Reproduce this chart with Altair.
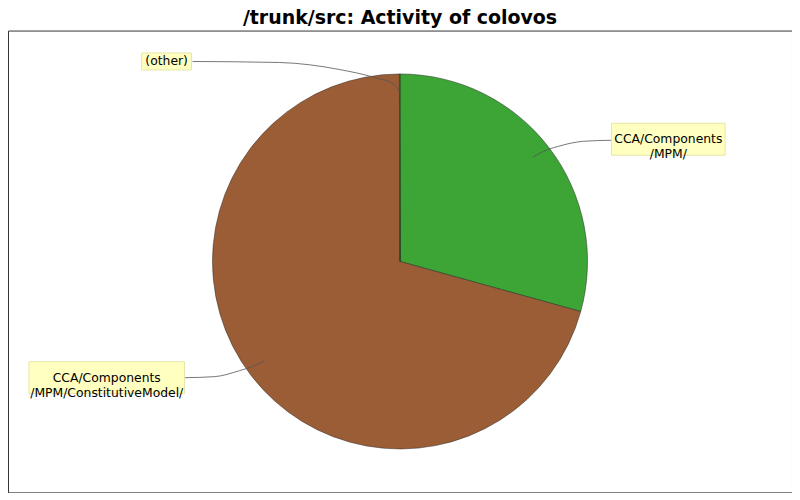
import altair as alt
import pandas as pd

# Slice data (clockwise from 12 o'clock)
categories = ["CCA/Components/MPM/", "CCA/Components/MPM/ConstitutiveModel/", "(other)"]
shares = [29.3, 70.65, 0.05]
colors = ["#3ca535", "#9b5d35", "#8c8c8c"]

# Label annotations (plot pixel space)
label_texts = [["CCA/Components", "/MPM/"], ["CCA/Components", "/MPM/ConstitutiveModel/"], ["(other)"]]
label_cx = [662, 99, 159]
label_cy = [109, 348, 31]
label_w = [114, 156, 50]
label_h = [32, 32, 17]
leader_x = [[605, 577, 552, 537, 526],
             [177, 207, 232, 247, 257],
             [185, 272, 332, 367, 387, 392]]
leader_y = [[110, 111, 116, 121, 127],
             [348, 347, 341, 336, 331],
             [31, 32, 39, 47, 54, 61]]

W, H = 786, 463

pie_df = pd.DataFrame({"cat": categories, "share": shares, "ord": list(range(len(categories)))})

pie = alt.Chart(pie_df).mark_arc(radius=188, stroke="#222", strokeWidth=0.6, strokeOpacity=0.8).encode(
    theta=alt.Theta("share:Q", stack=True),
    order=alt.Order("ord:Q"),
    color=alt.Color("cat:N", scale=alt.Scale(domain=categories, range=colors), legend=None),
)

xs = alt.Scale(domain=[0, W], nice=False, zero=False)
ys = alt.Scale(domain=[0, H], nice=False, zero=False, reverse=True)

line_rows = []
for i, (lx, ly) in enumerate(zip(leader_x, leader_y)):
    for j, (a, b) in enumerate(zip(lx, ly)):
        line_rows.append({"lid": i, "k": j, "x": a, "y": b})
lines_df = pd.DataFrame(line_rows)

leaders = alt.Chart(lines_df).mark_line(color="#555", strokeWidth=0.8, interpolate="monotone").encode(
    x=alt.X("x:Q", scale=xs, axis=None),
    y=alt.Y("y:Q", scale=ys, axis=None),
    detail="lid:N",
    order="k:Q",
)

box_df = pd.DataFrame({
    "x1": [c - w / 2 for c, w in zip(label_cx, label_w)],
    "x2": [c + w / 2 for c, w in zip(label_cx, label_w)],
    "y1": [c - h / 2 for c, h in zip(label_cy, label_h)],
    "y2": [c + h / 2 for c, h in zip(label_cy, label_h)],
    "cx": label_cx,
    "cy": label_cy,
    "txt": label_texts,
})

boxes = alt.Chart(box_df).mark_rect(fill="#ffffc0", stroke="#e6e6a8", strokeWidth=1).encode(
    x=alt.X("x1:Q", scale=xs, axis=None),
    x2="x2:Q",
    y=alt.Y("y1:Q", scale=ys, axis=None),
    y2="y2:Q",
)

texts = alt.Chart(box_df).mark_text(font="DejaVu Sans", fontSize=12.4, color="#000",
                                     lineHeight=15, baseline="middle", align="center").encode(
    x=alt.X("cx:Q", scale=xs, axis=None),
    y=alt.Y("cy:Q", scale=ys, axis=None),
    text="txt",
)

chart = alt.layer(pie, leaders, boxes, texts).properties(
    width=W, height=H,
    background="white",
    padding={"left": 0, "right": 0, "top": 0, "bottom": 0},
    title=alt.TitleParams("/trunk/src: Activity of colovos", font="DejaVu Sans", fontSize=19,
                          fontWeight="bold", color="#000", anchor="middle", offset=3),
).configure_view(stroke="#333", strokeWidth=1)

chart.save("out.html", embed_options={"renderer": "svg", "actions": False})
